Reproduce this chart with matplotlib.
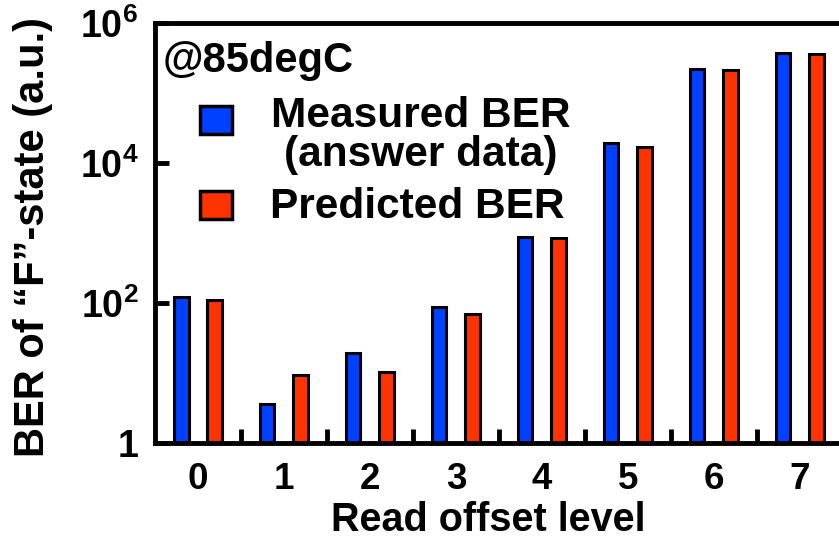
import numpy as np
import matplotlib.pyplot as plt
from matplotlib.patches import Rectangle

plt.rcParams['font.family'] = ['Liberation Sans', 'DejaVu Sans']
plt.rcParams['font.weight'] = 'bold'
plt.rcParams['mathtext.fontset'] = 'custom'
plt.rcParams['mathtext.rm'] = 'Liberation Sans'
plt.rcParams['mathtext.bf'] = 'Liberation Sans:bold'

#
# Data
#
levels = [0, 1, 2, 3, 4, 5, 6, 7]
measured = [123, 3.6, 19.5, 89, 890, 19500, 220000, 370000]
predicted = [110, 9.4, 10.4, 69, 840, 17000, 215000, 365000]
ytick_vals = [1, 1e2, 1e4, 1e6]
ytick_labels = ['1', r'$\mathbf{10}^{\mathrm{2}}$', r'$\mathbf{10}^{\mathrm{4}}$', r'$\mathbf{10}^{\mathrm{6}}$']
legend_labels = ['Measured BER', '(answer data)', 'Predicted BER']

blue = '#0040ff'
red = '#ff3300'

fig = plt.figure(figsize=(8.39, 5.38), dpi=100)
ax = fig.add_axes([0.1847, 0.1766, 0.82, 0.7807])
ax.set_yscale('log')

x = np.array(levels)
w = 0.17
off = 0.195
ax.bar(x - off, measured, w, color=blue, edgecolor='black', linewidth=2.2, zorder=2)
ax.bar(x + off, predicted, w, color=red, edgecolor='black', linewidth=2.2, zorder=2)

ax.set_xlim(-0.5, 7.5)
ax.set_ylim(1, 1e6)

for s in ax.spines.values():
    s.set_linewidth(3.5)
ax.spines['right'].set_visible(False)

# x: labels at groups, short inward marks between groups
ax.set_xticks(x)
ax.set_xticklabels([str(v) for v in levels])
ax.set_xticks(x[:-1] + 0.5, minor=True)
ax.tick_params(axis='x', which='major', length=0, pad=14, labelsize=26.5)
ax.tick_params(axis='x', which='minor', direction='in', length=10, width=3.5)

ax.yaxis.set_minor_locator(plt.NullLocator())
ax.set_yticks(ytick_vals)
ax.set_yticklabels(ytick_labels)
ax.tick_params(axis='y', which='major', direction='in', length=10, width=3.5, pad=12, labelsize=27)

ax.set_xlabel('Read offset level', fontsize=28.5, fontweight='bold', va='baseline')
ax.xaxis.set_label_coords(0.484, -0.209)
ax.set_ylabel('BER of \u201cF\u201d-state (a.u.)', fontsize=30, fontweight='bold', va='center')
ax.yaxis.set_label_coords(-0.177, 0.49)

# annotation and legend
ax.text(0.0116, 0.8833, '@85degC', transform=ax.transAxes, fontsize=30,
        ha='left', va='baseline')
ax.add_patch(Rectangle((0.0654, 0.7357), 0.0465, 0.0667, transform=ax.transAxes,
                       facecolor=blue, edgecolor='black', linewidth=2.5, clip_on=False))
ax.add_patch(Rectangle((0.0654, 0.5333), 0.0465, 0.0667, transform=ax.transAxes,
                       facecolor=red, edgecolor='black', linewidth=2.5, clip_on=False))
ax.text(0.386, 0.752, legend_labels[0], transform=ax.transAxes, fontsize=30.5,
        ha='center', va='baseline')
ax.text(0.386, 0.660, legend_labels[1], transform=ax.transAxes, fontsize=30.5,
        ha='center', va='baseline')
ax.text(0.167, 0.536, legend_labels[2], transform=ax.transAxes, fontsize=30.5,
        ha='left', va='baseline')

fig.savefig('out.png', dpi=100)
